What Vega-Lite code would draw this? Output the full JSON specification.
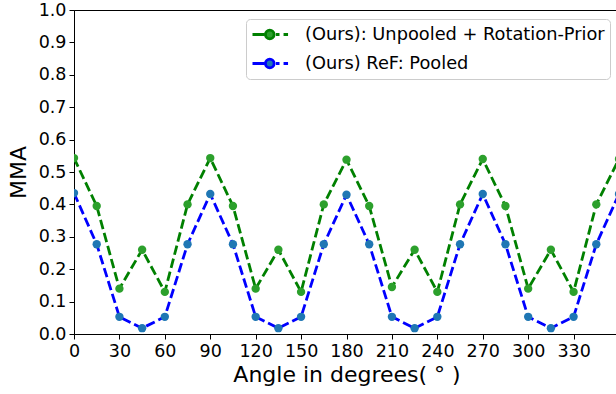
{
  "$schema": "https://vega.github.io/schema/vega-lite/v6.json",
  "width": 545,
  "height": 324,
  "autosize": {"type": "none"},
  "padding": {"left": 74, "top": 10, "right": 0, "bottom": 60},
  "config": {
    "font": "DejaVu Sans",
    "view": {"stroke": "black", "strokeWidth": 1},
    "axis": {
      "grid": false,
      "domainColor": "black",
      "tickColor": "black",
      "labelColor": "black",
      "titleColor": "black",
      "labelFontSize": 17.5,
      "titleFontSize": 22,
      "titleFontWeight": "normal",
      "tickSize": 5,
      "labelPadding": 3,
      "labelFlush": false,
      "labelOverlap": false
    }
  },
  "datasets": {
    "mma": [
      {"angle": 0, "series": "(Ours): Unpooled + Rotation-Prior", "mma": 0.543},
      {"angle": 15, "series": "(Ours): Unpooled + Rotation-Prior", "mma": 0.395},
      {"angle": 30, "series": "(Ours): Unpooled + Rotation-Prior", "mma": 0.14},
      {"angle": 45, "series": "(Ours): Unpooled + Rotation-Prior", "mma": 0.26},
      {"angle": 60, "series": "(Ours): Unpooled + Rotation-Prior", "mma": 0.13},
      {"angle": 75, "series": "(Ours): Unpooled + Rotation-Prior", "mma": 0.4},
      {"angle": 90, "series": "(Ours): Unpooled + Rotation-Prior", "mma": 0.543},
      {"angle": 105, "series": "(Ours): Unpooled + Rotation-Prior", "mma": 0.395},
      {"angle": 120, "series": "(Ours): Unpooled + Rotation-Prior", "mma": 0.14},
      {"angle": 135, "series": "(Ours): Unpooled + Rotation-Prior", "mma": 0.26},
      {"angle": 150, "series": "(Ours): Unpooled + Rotation-Prior", "mma": 0.13},
      {"angle": 165, "series": "(Ours): Unpooled + Rotation-Prior", "mma": 0.4},
      {"angle": 180, "series": "(Ours): Unpooled + Rotation-Prior", "mma": 0.538},
      {"angle": 195, "series": "(Ours): Unpooled + Rotation-Prior", "mma": 0.395},
      {"angle": 210, "series": "(Ours): Unpooled + Rotation-Prior", "mma": 0.145},
      {"angle": 225, "series": "(Ours): Unpooled + Rotation-Prior", "mma": 0.26},
      {"angle": 240, "series": "(Ours): Unpooled + Rotation-Prior", "mma": 0.13},
      {"angle": 255, "series": "(Ours): Unpooled + Rotation-Prior", "mma": 0.4},
      {"angle": 270, "series": "(Ours): Unpooled + Rotation-Prior", "mma": 0.54},
      {"angle": 285, "series": "(Ours): Unpooled + Rotation-Prior", "mma": 0.395},
      {"angle": 300, "series": "(Ours): Unpooled + Rotation-Prior", "mma": 0.14},
      {"angle": 315, "series": "(Ours): Unpooled + Rotation-Prior", "mma": 0.26},
      {"angle": 330, "series": "(Ours): Unpooled + Rotation-Prior", "mma": 0.13},
      {"angle": 345, "series": "(Ours): Unpooled + Rotation-Prior", "mma": 0.4},
      {"angle": 360, "series": "(Ours): Unpooled + Rotation-Prior", "mma": 0.54},
      {"angle": 0, "series": "(Ours) ReF: Pooled", "mma": 0.435},
      {"angle": 15, "series": "(Ours) ReF: Pooled", "mma": 0.277},
      {"angle": 30, "series": "(Ours) ReF: Pooled", "mma": 0.053},
      {"angle": 45, "series": "(Ours) ReF: Pooled", "mma": 0.018},
      {"angle": 60, "series": "(Ours) ReF: Pooled", "mma": 0.053},
      {"angle": 75, "series": "(Ours) ReF: Pooled", "mma": 0.277},
      {"angle": 90, "series": "(Ours) ReF: Pooled", "mma": 0.432},
      {"angle": 105, "series": "(Ours) ReF: Pooled", "mma": 0.277},
      {"angle": 120, "series": "(Ours) ReF: Pooled", "mma": 0.053},
      {"angle": 135, "series": "(Ours) ReF: Pooled", "mma": 0.018},
      {"angle": 150, "series": "(Ours) ReF: Pooled", "mma": 0.053},
      {"angle": 165, "series": "(Ours) ReF: Pooled", "mma": 0.277},
      {"angle": 180, "series": "(Ours) ReF: Pooled", "mma": 0.43},
      {"angle": 195, "series": "(Ours) ReF: Pooled", "mma": 0.277},
      {"angle": 210, "series": "(Ours) ReF: Pooled", "mma": 0.053},
      {"angle": 225, "series": "(Ours) ReF: Pooled", "mma": 0.018},
      {"angle": 240, "series": "(Ours) ReF: Pooled", "mma": 0.053},
      {"angle": 255, "series": "(Ours) ReF: Pooled", "mma": 0.277},
      {"angle": 270, "series": "(Ours) ReF: Pooled", "mma": 0.432},
      {"angle": 285, "series": "(Ours) ReF: Pooled", "mma": 0.277},
      {"angle": 300, "series": "(Ours) ReF: Pooled", "mma": 0.053},
      {"angle": 315, "series": "(Ours) ReF: Pooled", "mma": 0.018},
      {"angle": 330, "series": "(Ours) ReF: Pooled", "mma": 0.053},
      {"angle": 345, "series": "(Ours) ReF: Pooled", "mma": 0.277},
      {"angle": 360, "series": "(Ours) ReF: Pooled", "mma": 0.432}
    ]
  },
  "data": {"name": "mma"},
  "encoding": {
    "x": {
      "field": "angle",
      "type": "quantitative",
      "scale": {"domain": [0, 360], "nice": false, "zero": false},
      "axis": {
        "title": "Angle in degrees( ° )",
        "values": [0, 30, 60, 90, 120, 150, 180, 210, 240, 270, 300, 330],
        "titlePadding": 5
      }
    },
    "y": {
      "field": "mma",
      "type": "quantitative",
      "scale": {"domain": [0, 1], "nice": false},
      "axis": {
        "title": "MMA",
        "values": [0, 0.1, 0.2, 0.3, 0.4, 0.5, 0.6, 0.7, 0.8, 0.9, 1.0],
        "format": ".1f",
        "titlePadding": 8
      }
    }
  },
  "layer": [
    {
      "mark": {"type": "line", "strokeWidth": 2.8, "strokeDash": [9.5, 4], "clip": true},
      "encoding": {
        "color": {
          "field": "series",
          "type": "nominal",
          "scale": {
            "domain": ["(Ours): Unpooled + Rotation-Prior", "(Ours) ReF: Pooled"],
            "range": ["#008000", "#0000ff"]
          },
          "legend": {
            "title": null,
            "orient": "top-right",
            "offset": 9,
            "padding": 5,
            "fillColor": "white",
            "strokeColor": "#cccccc",
            "cornerRadius": 4,
            "labelFontSize": 17.8,
            "labelColor": "black",
            "labelLimit": 0,
            "symbolType": "M-1,0H0.3M1.6,0H2M2.45,0H2.95M0.44,0A0.48,0.48 0 1,1 1.4,0A0.48,0.48 0 1,1 0.44,0Z",
            "symbolSize": 324,
            "symbolStrokeWidth": 2.8,
            "symbolDash": [],
            "rowPadding": 8,
            "labelOffset": 33,
            "encode": {
              "symbols": {
                "update": {
                  "fill": {"scale": "color", "field": "value"},
                  "strokeDash": {"value": []}
                }
              }
            }
          }
        },
        "detail": {"field": "series"}
      }
    },
    {
      "mark": {"type": "point", "filled": true, "size": 70, "opacity": 1, "clip": true},
      "encoding": {
        "fill": {
          "field": "series",
          "type": "nominal",
          "scale": {
            "domain": ["(Ours): Unpooled + Rotation-Prior", "(Ours) ReF: Pooled"],
            "range": ["#2ca02c", "#1f77b4"]
          },
          "legend": null
        }
      }
    }
  ]
}
